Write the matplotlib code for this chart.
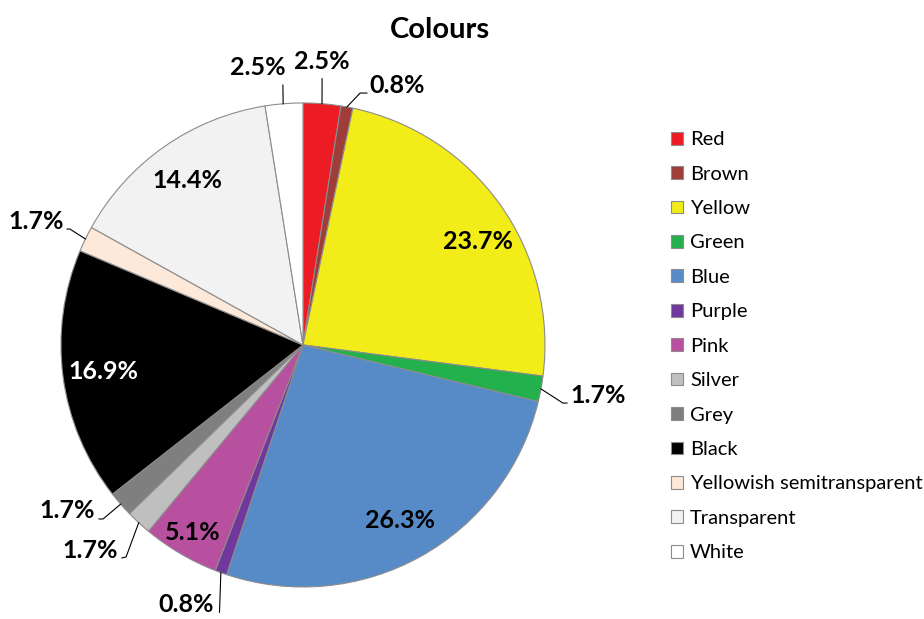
import matplotlib
matplotlib.use('Agg')
import matplotlib.pyplot as plt
import numpy as np

plt.rcParams['font.family'] = ['Lato', 'DejaVu Sans']

categories = ['Red', 'Brown', 'Yellow', 'Green', 'Blue', 'Purple', 'Pink',
              'Silver', 'Grey', 'Black', 'Yellowish semitransparent',
              'Transparent', 'White']
shares = [2.5, 0.8, 23.7, 1.7, 26.3, 0.8, 5.1, 1.7, 1.7, 16.9, 1.7, 14.4, 2.5]
colours = ['#ed1c24', '#9e3d3a', '#f2ec19', '#22b14c', '#578bc8', '#70389c',
           '#b850a0', '#bfbfbf', '#7f7f7f', '#000000', '#fde9d9', '#f2f2f2',
           '#ffffff']

# label layout (pie radius = 1). inside: (angle override or None, radius, colour)
inside = {2: (30.7, 0.84, 'black'), 4: (None, 0.83, 'black'),
          6: (None, 0.9, 'black'), 9: (None, 0.83, 'white'),
          11: (None, 0.83, 'black')}
# outside: anchor angle override, elbow, line end, text pos, ha
outside = {
    0: (None, None, (0.079, 1.10), (0.079, 1.17), 'center'),
    1: (None, (0.236, 1.041), (0.264, 1.041), (0.275, 1.074), 'left'),
    3: (None, (1.074, -0.24), (1.091, -0.24), (1.107, -0.207), 'left'),
    5: (None, None, (-0.345, -1.105), (-0.37, -1.074), 'right'),
    7: (None, (-0.731, -0.876), (-0.748, -0.88), (-0.764, -0.851), 'right'),
    8: (None, (-0.826, -0.719), (-0.843, -0.719), (-0.86, -0.686), 'right'),
    10: (None, (-0.963, 0.479), (-0.975, 0.479), (-0.988, 0.512), 'right'),
    12: (94.7, None, (-0.083, 1.074), (-0.186, 1.145), 'center'),
}

fig = plt.figure(figsize=(9.24, 6.19), dpi=100)
ax = fig.add_axes([0.066, 0.0517, 0.5238, 0.782])

wedges, _ = ax.pie(shares, colors=colours, startangle=90, counterclock=False,
                   radius=1, wedgeprops=dict(edgecolor='#8c8c8c', linewidth=0.8))
ax.set_xlim(-1, 1)
ax.set_ylim(-1, 1)
ax.set_aspect('equal')
ax.axis('off')

for i, w in enumerate(wedges):
    mid = (w.theta1 + w.theta2) / 2
    txt = '%.1f%%' % shares[i]
    if i in inside:
        ang, r, c = inside[i]
        a = np.deg2rad(mid if ang is None else ang)
        ax.text(r * np.cos(a), r * np.sin(a), txt, ha='center', va='center',
                fontsize=18, fontweight='bold', color=c)
    else:
        ang, elbow, end, tpos, ha = outside[i]
        a = np.deg2rad(mid if ang is None else ang)
        pts = [(np.cos(a), np.sin(a))]
        if elbow is not None:
            pts.append(elbow)
        pts.append(end)
        xs, ys = zip(*pts)
        ax.plot(xs, ys, color='black', lw=0.8, clip_on=False)
        ax.text(tpos[0], tpos[1], txt, ha=ha, va='center', fontsize=18,
                fontweight='bold', color='black', clip_on=False)

fig.text(0.476, 0.951, 'Colours', ha='center', va='center', fontsize=21,
         fontweight='bold')

fig.legend(wedges, categories, loc='upper left', bbox_to_anchor=(0.726, 0.788),
           frameon=False, fontsize=14.5, handlelength=0.6, handleheight=0.6,
           handletextpad=0.35, labelspacing=0.865, borderpad=0, borderaxespad=0)

fig.savefig('out.png', dpi=100, facecolor='white')
